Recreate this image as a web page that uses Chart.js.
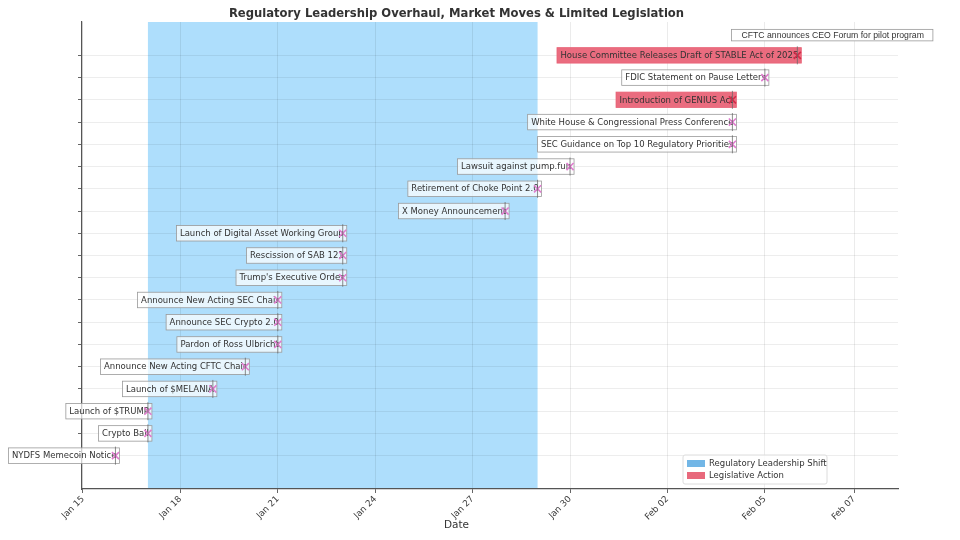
<!DOCTYPE html>
<html lang="en">
<head>
<meta charset="UTF-8">
<title>Regulatory Leadership Overhaul, Market Moves &amp; Limited Legislation</title>
<script src="https://cdn.jsdelivr.net/npm/chart.js"></script>
<style>
    html, body { margin: 0; padding: 0; background: #fff; }
    .chart-container { position: relative; width: 960px; height: 540px; }
</style>
</head>
<body>
<div class="chart-container"><canvas id="timelineChart" width="960" height="540"></canvas></div>
<script>
    const chartTitle = 'Regulatory Leadership Overhaul, Market Moves & Limited Legislation';

    // events, bottom row first
    const eventNames = [
        'NYDFS Memecoin Notice',
        'Crypto Ball',
        'Launch of $TRUMP',
        'Launch of $MELANIA',
        'Announce New Acting CFTC Chair',
        'Pardon of Ross Ulbricht',
        'Announce SEC Crypto 2.0',
        'Announce New Acting SEC Chair',
        "Trump's Executive Order",
        'Rescission of SAB 121',
        'Launch of Digital Asset Working Group',
        'X Money Announcement',
        'Retirement of Choke Point 2.0',
        'Lawsuit against pump.fun',
        'SEC Guidance on Top 10 Regulatory Priorities',
        'White House & Congressional Press Conference',
        'Introduction of GENIUS Act',
        'FDIC Statement on Pause Letters',
        'House Committee Releases Draft of STABLE Act of 2025',
        'CFTC announces CEO Forum for pilot program'
    ];
    const eventDates = [
        '2025-01-16', '2025-01-17', '2025-01-17', '2025-01-19', '2025-01-20',
        '2025-01-21', '2025-01-21', '2025-01-21', '2025-01-23', '2025-01-23',
        '2025-01-23', '2025-01-28', '2025-01-29', '2025-01-30', '2025-02-04',
        '2025-02-04', '2025-02-04', '2025-02-05', '2025-02-06', '2025-02-04'
    ];
    const eventTypes = [
        'shift', 'shift', 'shift', 'shift', 'shift',
        'shift', 'shift', 'shift', 'shift', 'shift',
        'shift', 'shift', 'shift', 'shift', 'shift',
        'shift', 'legislative', 'shift', 'legislative', 'note'
    ];

    const startDate = '2025-01-15';
    const shiftPeriod = ['2025-01-17', '2025-01-29'];

    // x ticks in days after Jan 15
    const tickDays = [0, 3, 6, 9, 12, 15, 18, 21, 23.75];
    const tickLabels = ['Jan 15', 'Jan 18', 'Jan 21', 'Jan 24', 'Jan 27', 'Jan 30', 'Feb 02', 'Feb 05', 'Feb 07'];
    const rowTicks = [0, 1, 2, 3, 4, 5, 6, 7, 8, 9, 10, 11, 12, 13, 14, 15, 16, 17, 18];

    const legendLabels = ['Regulatory Leadership Shift', 'Legislative Action'];
    const legendColors = ['#72b6e6', '#e8697c'];

    const toDay = d => (Date.parse(d + 'T00:00:00Z') - Date.parse(startDate + 'T00:00:00Z')) / 864e5;
    const points = eventDates.map((d, i) => ({ x: toDay(d), y: i }));

    const markerColor = t => t === 'legislative' ? '#d42a48' : (t === 'note' ? 'rgba(0,0,0,0)' : '#e07ccf');
    const FONT = '"DejaVu Sans", sans-serif';

    // shaded period behind the grid
    const bandPlugin = {
        id: 'band',
        beforeDraw(chart) {
            const { ctx, chartArea, scales } = chart;
            const x0 = scales.x.getPixelForValue(toDay(shiftPeriod[0]));
            const x1 = scales.x.getPixelForValue(toDay(shiftPeriod[1]));
            ctx.save();
            ctx.fillStyle = 'rgba(135,206,250,0.68)';
            ctx.fillRect(x0, chartArea.top, x1 - x0, chartArea.bottom - chartArea.top);
            ctx.restore();
        }
    };

    // text boxes next to each marker
    const labelPlugin = {
        id: 'eventLabels',
        beforeDatasetsDraw(chart) {
            const { ctx, scales } = chart;
            ctx.save();
            ctx.textBaseline = 'middle';
            points.forEach((p, i) => {
                const px = scales.x.getPixelForValue(p.x);
                const py = scales.y.getPixelForValue(p.y);
                const type = eventTypes[i];
                if (type === 'note') {
                    ctx.font = '8.7px "Liberation Sans", sans-serif';
                    const w = ctx.measureText(eventNames[i]).width;
                    const left = px - 1, h = 11.5;
                    ctx.fillStyle = '#fff';
                    ctx.fillRect(left, py - h / 2 + 2, w + 19, h);
                    ctx.strokeStyle = '#999';
                    ctx.lineWidth = 0.8;
                    ctx.strokeRect(left, py - h / 2 + 2, w + 19, h);
                    ctx.fillStyle = '#333';
                    ctx.textAlign = 'left';
                    ctx.fillText(eventNames[i], left + 10, py + 2);
                    return;
                }
                ctx.font = '8.5px ' + FONT;
                const w = ctx.measureText(eventNames[i]).width;
                const right = px + 4, h = 15.5;
                const left = px + 1 - w - 3.5;
                if (type === 'legislative') {
                    ctx.fillStyle = 'rgba(232,96,116,0.92)';
                    ctx.strokeStyle = 'rgba(232,96,116,0.92)';
                } else {
                    ctx.fillStyle = 'rgba(255,255,255,0.72)';
                    ctx.strokeStyle = '#9a9a9a';
                }
                ctx.lineWidth = 0.8;
                ctx.fillRect(left, py - h / 2, right - left, h);
                ctx.strokeRect(left, py - h / 2, right - left, h);
                ctx.fillStyle = '#333';
                ctx.textAlign = 'right';
                ctx.fillText(eventNames[i], px + 1, py + 0.5);
            });
            ctx.restore();
        },
        afterDraw(chart) {
            const { ctx, chartArea } = chart;
            ctx.save();
            // title and axis name
            ctx.fillStyle = '#333';
            ctx.textAlign = 'center';
            ctx.textBaseline = 'middle';
            ctx.font = 'bold 11.6px ' + FONT;
            ctx.fillText(chartTitle, 456.5, 14);
            ctx.font = '10.5px ' + FONT;
            ctx.fillText('Date', 456.5, 525);

            // legend box
            const lx = chartArea.left + 601, ly = chartArea.top + 433;
            ctx.fillStyle = 'rgba(255,255,255,0.85)';
            ctx.strokeStyle = '#dcdcdc';
            ctx.lineWidth = 1;
            ctx.beginPath();
            ctx.roundRect(lx, ly, 144, 29, 2);
            ctx.fill();
            ctx.stroke();
            ctx.textAlign = 'left';
            ctx.font = '8.5px ' + FONT;
            legendLabels.forEach((lab, i) => {
                const y = ly + 8.5 + i * 12;
                ctx.fillStyle = legendColors[i];
                ctx.fillRect(lx + 4, y - 3.5, 18, 7);
                ctx.fillStyle = '#333';
                ctx.fillText(lab, lx + 26, y);
            });
            ctx.restore();
        }
    };

    const ctx = document.getElementById('timelineChart').getContext('2d');
    const chart = new Chart(ctx, {
        type: 'scatter',
        data: {
            datasets: [
                {
                    label: 'stems',
                    data: points.filter((p, i) => eventTypes[i] !== 'note'),
                    pointStyle: 'line',
                    rotation: 90,
                    radius: 9,
                    borderColor: 'rgba(100,100,100,0.75)',
                    borderWidth: 1
                },
                {
                    label: 'events',
                    data: points,
                    pointStyle: 'crossRot',
                    radius: 5,
                    borderWidth: 1.6,
                    borderColor: eventTypes.map(markerColor),
                    backgroundColor: eventTypes.map(markerColor)
                }
            ]
        },
        options: {
            responsive: false,
            animation: false,
            devicePixelRatio: 1,
            layout: { padding: { left: 82, right: 62, top: 22, bottom: 0 } },
            scales: {
                x: {
                    type: 'linear',
                    min: -0.03,
                    max: 25.1,
                    afterBuildTicks: s => { s.ticks = tickDays.map(v => ({ value: v })); },
                    afterFit: s => { s.height = 51; },
                    ticks: {
                        callback: (v, i) => tickLabels[i],
                        minRotation: 45,
                        maxRotation: 45,
                        padding: 1,
                        color: '#3a3a3a',
                        font: { family: FONT, size: 8.8 }
                    },
                    grid: { color: 'rgba(0,0,0,0.08)', tickLength: 4, tickColor: '#666' },
                    border: { color: '#555', width: 1.2 }
                },
                y: {
                    type: 'linear',
                    min: -1.5,
                    max: 19.5,
                    afterBuildTicks: s => { s.ticks = rowTicks.map(v => ({ value: v })); },
                    afterFit: s => { s.width = 0; },
                    ticks: { display: false },
                    grid: { color: 'rgba(0,0,0,0.07)', tickLength: 4, tickColor: '#666' },
                    border: { color: '#555', width: 1.2 }
                }
            },
            plugins: {
                legend: { display: false },
                title: { display: false },
                tooltip: { enabled: false }
            }
        },
        plugins: [bandPlugin, labelPlugin]
    });
</script>
</body>
</html>
